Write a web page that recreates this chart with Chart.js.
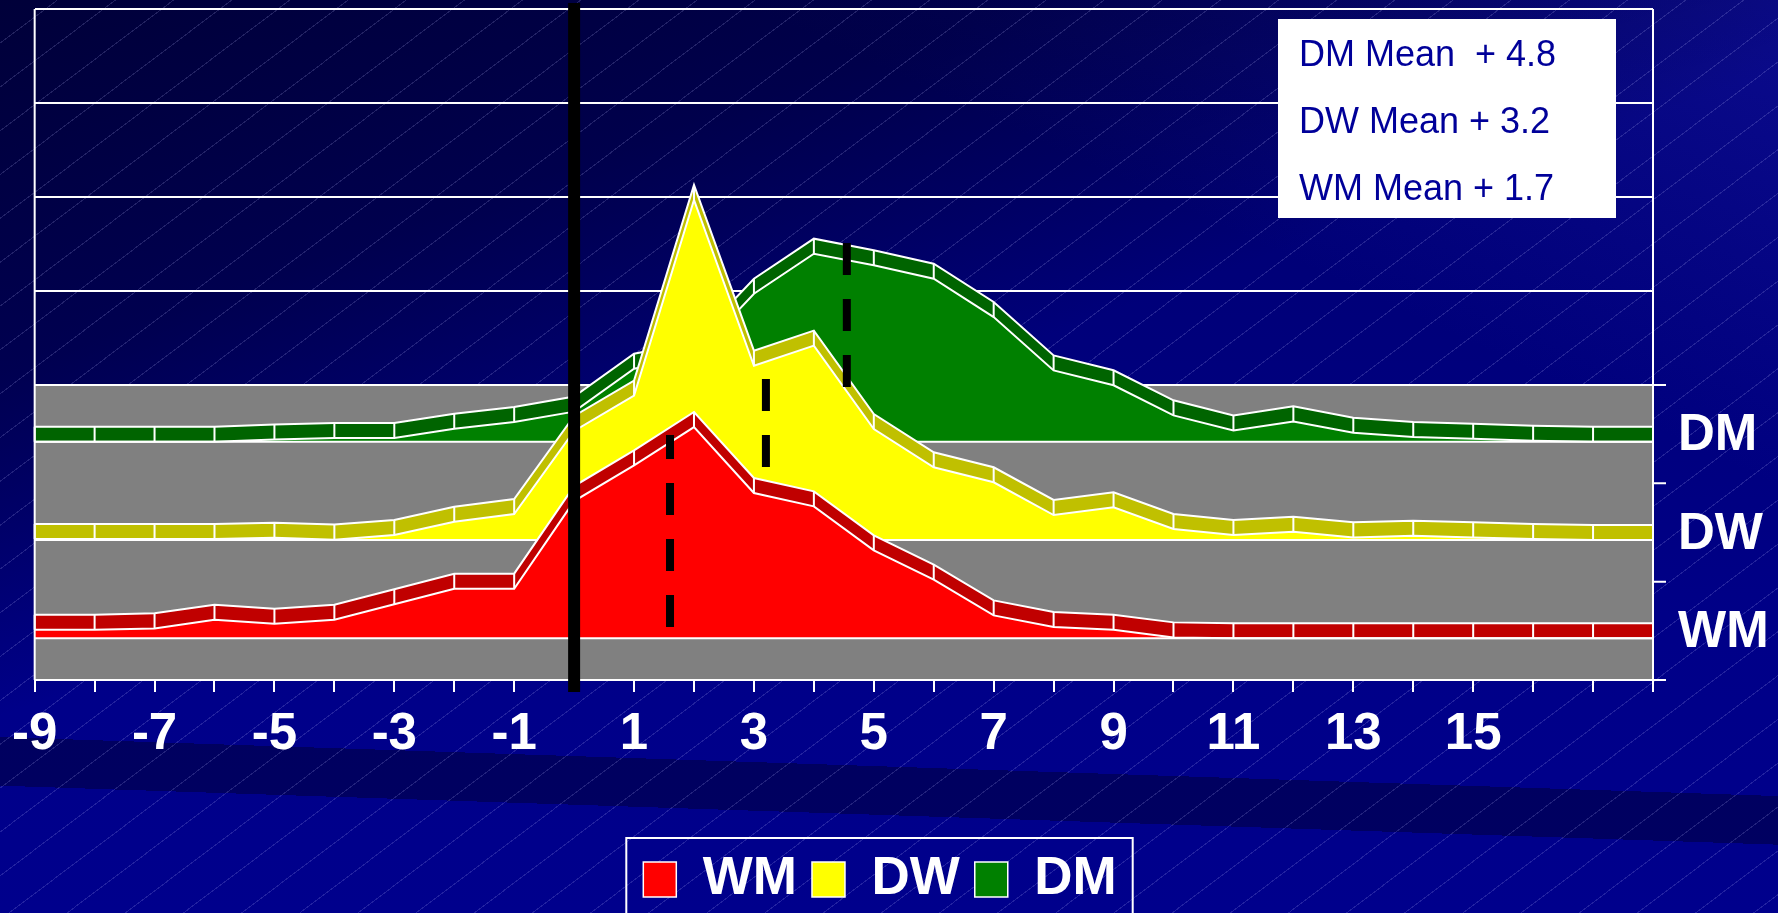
<!DOCTYPE html>
<html>
<head>
<meta charset="utf-8">
<title>WM / DW / DM</title>
<script src="https://cdn.jsdelivr.net/npm/chart.js@4.4.1/dist/chart.umd.min.js"></script>
<style>
    html, body { margin: 0; padding: 0; }
    body {
        width: 1778px;
        height: 913px;
        overflow: hidden;
        background:
            repeating-linear-gradient(143deg, rgba(255,255,255,0) 0px, rgba(255,255,255,0) 34px, rgba(190,190,255,0.18) 34px, rgba(190,190,255,0.18) 35px),
            linear-gradient(181.9deg, rgba(0,0,0,0) 0%, rgba(0,0,0,0) 81.9%, rgba(0,0,45,0.45) 81.9%, rgba(0,0,45,0.45) 86.9%, rgba(0,0,0,0) 86.9%),
            linear-gradient(160deg, rgba(0,0,45,0.8) 0%, rgba(0,0,45,0.55) 24%, rgba(0,0,45,0.25) 36%, rgba(0,0,45,0) 46%),
            linear-gradient(205deg, rgba(25,25,180,0.45) 0%, rgba(25,25,180,0) 28%),
            linear-gradient(180deg, #00006c 0%, #000088 70%, #00008c 100%);
    }
</style>
</head>
<body>
<canvas id="chart" width="1778" height="913"></canvas>
<script>
const categories = ["-9", "-8", "-7", "-6", "-5", "-4", "-3", "-2", "-1", "0", "1", "2", "3", "4",
    "5", "6", "7", "8", "9", "10", "11", "12", "13", "14", "15", "16", "17", "18"];
const xTickLabels = ["-9", "-7", "-5", "-3", "-1", "1", "3", "5", "7", "9", "11", "13", "15"];

// values per category, -9 .. 18
const wmValues = [0.46, 0.46, 0.53, 0.99, 0.78, 0.99, 1.81, 2.64, 2.64, 7.3, 9.2, 11.24, 7.73, 7.02,
    4.68, 3.12, 1.22, 0.6, 0.46, 0.05, 0, 0, 0, 0, 0, 0, 0, 0];
const dwValues = [0.05, 0.05, 0.05, 0.05, 0.12, 0.02, 0.27, 0.97, 1.38, 5.8, 7.68, 18.09, 9.27, 10.34,
    5.9, 3.87, 3.07, 1.33, 1.74, 0.59, 0.27, 0.44, 0.14, 0.23, 0.14, 0.05, 0, 0];
const dmValues = [0, 0, 0, 0, 0.12, 0.2, 0.2, 0.69, 1.05, 1.6, 3.88, 4.5, 7.87, 10.0,
    9.38, 8.67, 6.63, 3.79, 3.0, 1.4, 0.6, 1.08, 0.48, 0.25, 0.16, 0.05, 0, 0];

const wallTicks = [0, 5, 10, 15, 20];
const rowLabels = ["DM", "DW", "WM"];           // depth axis, back to front
const legendLabels = ["WM", "DW", "DM"];

// mean markers (WM, DW, DM): offset from category 0, dashed line bottom / top
const meanText = ["DM Mean  + 4.8", "DW Mean + 3.2", "WM Mean + 1.7"];
const meanX = [1.6, 3.2, 4.55];
const meanBottom = [-12.87, -4.36, -0.11];
const meanTop = [-2.66, 0.32, 7.55];

const FONT = '"Liberation Sans", Arial, sans-serif';
const FLOOR = -15.69;      // front edge of the floor, in wall units
const ROW = FLOOR / 3;
const DEPTH = 0.8;         // thickness of each ribbon

const series = [
    { name: "DM", values: dmValues, face: "#008000", top: "#006400" },
    { name: "DW", values: dwValues, face: "#FFFF00", top: "#C0C000" },
    { name: "WM", values: wmValues, face: "#FF0000", top: "#C00000" }
];
const colorOf = { WM: "#FF0000", DW: "#FFFF00", DM: "#008000" };

function baseOf(row) {
    return ROW * (row + 0.5) - DEPTH / 2;
}

let datasets = [];
series.forEach((s, k) => {
    let base = baseOf(k);
    // top face (ribbon), filled down to the front line
    datasets.push({
        label: s.name + " top",
        data: s.values.map(v => base + DEPTH + v),
        fill: 2 * k + 1,
        backgroundColor: s.top,
        borderColor: "#ffffff",
        borderWidth: 2,
        pointRadius: 0,
        tension: 0,
        order: 6 - 2 * k
    });
    // front face
    datasets.push({
        label: s.name,
        data: s.values.map(v => base + v),
        fill: { value: base },
        backgroundColor: s.face,
        borderColor: "#ffffff",
        borderWidth: 2,
        pointRadius: 0,
        tension: 0,
        order: 5 - 2 * k
    });
});

const chartDecor = {
    id: "chartDecor",
    afterLayout(chart) {
        let lg = chart.legend;
        let shift = 880 - (lg.left + lg.right) / 2;
        lg.left += shift;
        lg.right += shift;
    },
    beforeDatasetsDraw(chart) {
        let ctx = chart.ctx, a = chart.chartArea, y = chart.scales.y;
        let y0 = y.getPixelForValue(0), yf = y.getPixelForValue(FLOOR);
        ctx.save();
        ctx.fillStyle = "#808080";
        ctx.fillRect(a.left, y0, a.right - a.left, yf - y0);
        ctx.strokeStyle = "#ffffff";
        ctx.lineWidth = 2;
        ctx.beginPath();
        ctx.moveTo(a.left, y0);
        ctx.lineTo(a.right + 13, y0);
        ctx.stroke();
        ctx.restore();
    },
    afterDatasetDraw(chart, args) {
        let ctx = chart.ctx, a = chart.chartArea;
        let k = Math.floor(args.index / 2);
        ctx.save();
        ctx.strokeStyle = "#ffffff";
        ctx.lineWidth = 2;
        ctx.beginPath();
        if (args.index % 2 === 0) {
            let front = chart.getDatasetMeta(args.index + 1).data;
            args.meta.data.forEach((pt, i) => {
                ctx.moveTo(pt.x, pt.y);
                ctx.lineTo(front[i].x, front[i].y);
            });
        } else {
            let yb = chart.scales.y.getPixelForValue(baseOf(k));
            ctx.moveTo(a.left, yb);
            ctx.lineTo(a.right, yb);
        }
        ctx.stroke();
        ctx.restore();
    },
    afterDatasetsDraw(chart) {
        let ctx = chart.ctx, a = chart.chartArea;
        let x = chart.scales.x, y = chart.scales.y;
        let zero = categories.indexOf("0");
        ctx.save();

        // frame and depth axis
        ctx.strokeStyle = "#ffffff";
        ctx.lineWidth = 2;
        ctx.beginPath();
        ctx.moveTo(a.left, a.top);
        ctx.lineTo(a.left, a.bottom);
        ctx.moveTo(a.right, a.top);
        ctx.lineTo(a.right, a.bottom + 12);
        for (let r = 0; r <= 3; r++) {
            let yy = y.getPixelForValue(ROW * r);
            ctx.moveTo(r === 3 ? a.left : a.right, yy);
            ctx.lineTo(a.right + 13, yy);
        }
        ctx.stroke();

        ctx.fillStyle = "#ffffff";
        ctx.font = "bold 51px " + FONT;
        ctx.textAlign = "left";
        ctx.textBaseline = "middle";
        rowLabels.forEach((lab, r) => {
            ctx.fillText(lab, a.right + 25, y.getPixelForValue(ROW * (r + 0.5)) + 2);
        });

        // event line at 0
        let xz = x.getPixelForValue(zero);
        ctx.strokeStyle = "#000000";
        ctx.lineWidth = 12;
        ctx.beginPath();
        ctx.moveTo(xz, a.top - 6);
        ctx.lineTo(xz, a.bottom + 12);
        ctx.stroke();

        // mean markers
        ctx.lineWidth = 8;
        ctx.setLineDash([32, 24]);
        meanX.forEach((m, i) => {
            let xm = x.getPixelForValue(zero + m);
            ctx.beginPath();
            ctx.moveTo(xm, y.getPixelForValue(meanBottom[i]));
            ctx.lineTo(xm, y.getPixelForValue(meanTop[i]));
            ctx.stroke();
        });
        ctx.setLineDash([]);

        // mean text box
        let bx = a.right - 375, by = a.top + 10;
        ctx.fillStyle = "#ffffff";
        ctx.fillRect(bx, by, 338, 199);
        ctx.fillStyle = "#000099";
        ctx.font = "36px " + FONT;
        ctx.textBaseline = "alphabetic";
        meanText.forEach((t, i) => {
            ctx.fillText(t, bx + 21, by + 47 + i * 67);
        });
        ctx.restore();
    },
    afterDraw(chart) {
        let boxes = chart.legend.legendHitBoxes;
        if (!boxes || !boxes.length) return;
        let first = boxes[0], last = boxes[boxes.length - 1];
        let ctx = chart.ctx;
        ctx.save();
        ctx.strokeStyle = "#ffffff";
        ctx.lineWidth = 2;
        ctx.strokeRect(first.left - 17, first.top - 15, last.left + last.width - first.left + 33, 120);
        ctx.restore();
    }
};

new Chart(document.getElementById("chart"), {
    type: "line",
    data: {
        labels: categories,
        datasets
    },
    options: {
        responsive: false,
        animation: false,
        events: [],
        layout: {
            padding: { top: 9, left: 34, right: 125, bottom: 15 }
        },
        scales: {
            x: {
                type: "category",
                offset: false,
                grid: { drawOnChartArea: false, drawTicks: true, tickLength: 12, color: "#ffffff", lineWidth: 2 },
                border: { display: false },
                ticks: {
                    autoSkip: false,
                    maxRotation: 0,
                    color: "#ffffff",
                    padding: 12,
                    font: { family: FONT, size: 51, weight: "bold" },
                    callback: function (v, i) {
                        let lab = categories[i];
                        return xTickLabels.includes(lab) ? lab : "";
                    }
                },
                afterFit: s => { s.height = 158; }
            },
            y: {
                min: FLOOR,
                max: 20,
                afterBuildTicks: s => { s.ticks = wallTicks.map(v => ({ value: v })); },
                afterFit: s => { s.width = 0; },
                grid: { color: "#ffffff", lineWidth: 2, drawTicks: false },
                border: { display: false },
                ticks: { display: false }
            }
        },
        plugins: {
            tooltip: { enabled: false },
            legend: {
                position: "bottom",
                maxHeight: 60,
                labels: {
                    color: "#ffffff",
                    font: { family: FONT, size: 53, weight: "bold" },
                    boxWidth: 33,
                    boxHeight: 35,
                    padding: 15,
                    generateLabels: () => legendLabels.map(name => ({
                        text: name,
                        fillStyle: colorOf[name],
                        strokeStyle: "#ffffff",
                        lineWidth: 1.5,
                        fontColor: "#ffffff",
                        hidden: false
                    }))
                }
            }
        }
    },
    plugins: [chartDecor]
});
</script>
</body>
</html>
